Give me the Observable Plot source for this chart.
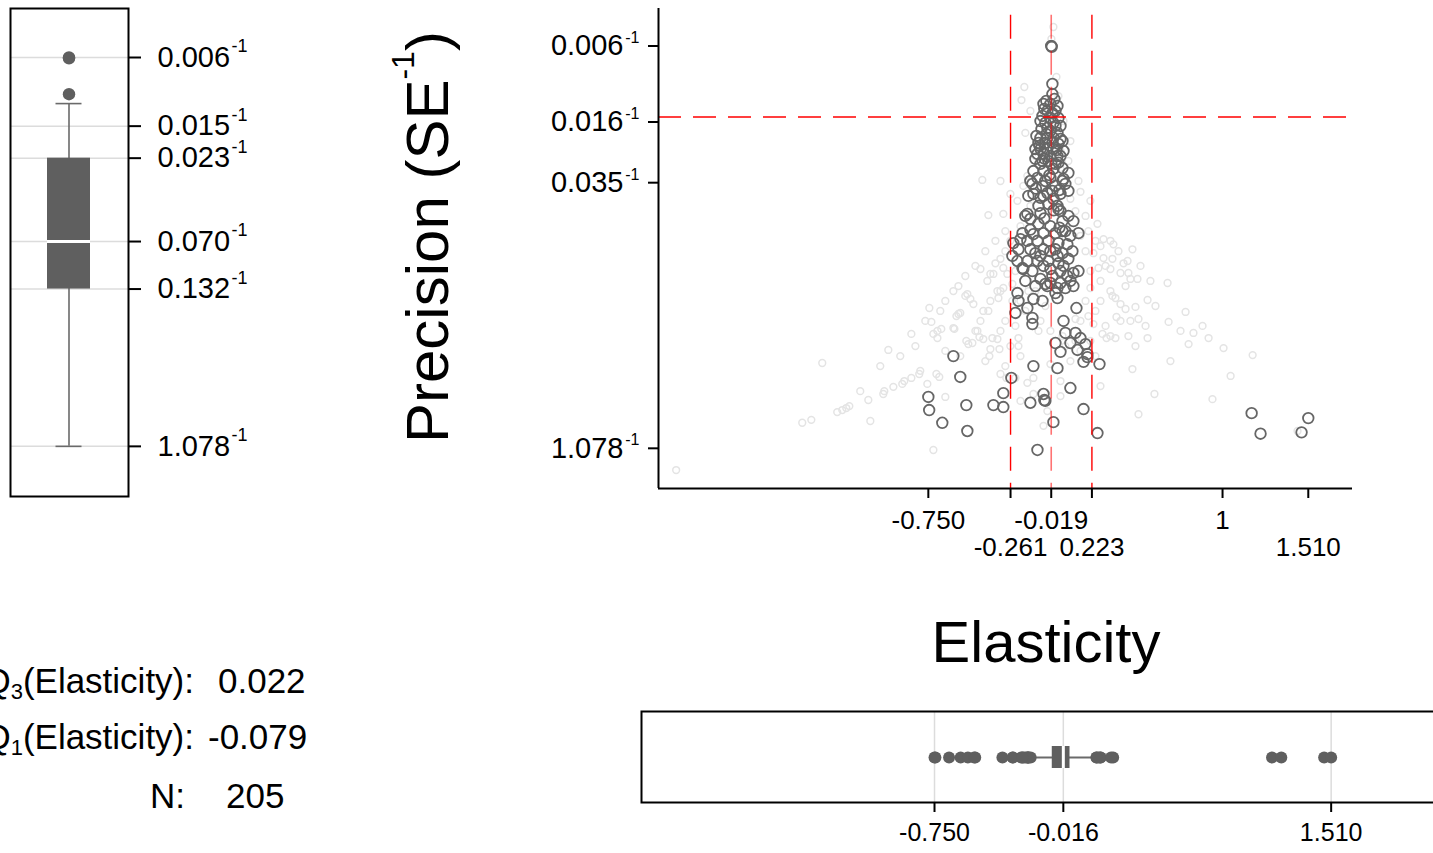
<!DOCTYPE html>
<html><head><meta charset="utf-8">
<script src="https://cdn.jsdelivr.net/npm/d3@7"></script>
<script src="https://cdn.jsdelivr.net/npm/@observablehq/plot@0.6"></script>
<style>
html,body{margin:0;padding:0;background:#fff;overflow:hidden;width:1433px;height:853px;}
#root{position:relative;width:1433px;height:853px;overflow:hidden;}
.abs{position:absolute;}
</style></head><body><div id="root"></div>
<script>
// ---------------- DATA ----------------
// Studies in the selected subsample (dark circles): elasticity and precision (1/SE)
const darkElasticity = [-0.019,-0.016,-0.012,-0.012,-0.065,-0.024,0.018,-0.042,0.006,-0.071,-0.024,0.024,-0.054,-0.006,-0.042,0.006,-0.024,-0.083,-0.042,-0.006,0.036,-0.095,-0.054,-0.012,0.024,0.054,-0.083,-0.042,-0.006,-0.101,-0.065,-0.024,0.018,-0.113,-0.036,-0.083,-0.125,-0.065,-0.006,0.048,-0.101,-0.024,0.054,-0.131,-0.071,0.006,0.065,-0.125,-0.042,0.036,-0.083,-0.006,-0.065,-0.095,-0.036,0.018,-0.173,-0.083,0.036,0.048,-0.095,-0.024,-0.161,0.113,-0.190,-0.125,-0.065,0.006,0.065,0.143,-0.244,-0.161,-0.101,-0.036,0.024,0.077,-0.214,-0.143,-0.065,0.006,0.048,0.083,-0.220,-0.161,-0.101,-0.036,0.024,-0.185,-0.024,0.036,0.113,0.077,-0.190,-0.083,-0.024,0.036,0.095,-0.054,-0.042,0.018,0.065,-0.220,-0.214,-0.125,0.018,-0.232,-0.161,-0.131,-0.131,0.131,0.054,0.065,0.125,0.155,0.006,0.095,0.185,0.036,0.137,0.196,0.173,0.268,0.196,-0.601,-0.125,0.018,-0.560,-0.256,0.095,-0.304,-0.065,-0.060,-0.524,-0.363,-0.304,-0.143,0.173,-0.006,-0.518,0.256,-0.101,-0.750,-0.745,-0.667,1.173,1.226,1.470,1.510,0.048,-0.054,-0.060,-0.012,-0.077,0.018,-0.048,-0.089,0.012,-0.060,-0.018,0.024,-0.030,0.030,-0.110,-0.005,-0.060,0.030,
  -0.048,0.000,-0.083,0.036,-0.107,0.048,-0.113,0.036,-0.071,0.006,-0.143,0.083,-0.054,-0.155,0.083,-0.012,-0.143,0.083,-0.202,-0.024,-0.113,0.107,-0.250,-0.065,0.054,-0.131,-0.012,0.143,-0.113,0.006,0.113,-0.071,-0.173,0.048,-0.143,-0.083,0.018,0.095,0.024];
const darkPrecision = [166.7,165.0,102.1,89.7,78.9,78.9,76.9,72.1,72.1,67.6,65.8,65.8,61.8,61.8,57.9,59.4,55.7,50.9,50.9,50.9,50.2,47.7,47.7,47.7,47.1,43.0,44.1,44.1,44.1,41.4,41.4,40.3,40.3,38.8,37.8,36.4,33.2,33.2,34.1,34.5,30.4,30.4,30.0,28.1,27.4,27.4,28.1,24.7,25.0,24.7,23.5,23.2,24.1,21.2,21.7,21.2,18.6,19.3,19.8,17.4,16.8,16.3,19.1,17.4,14.9,14.7,14.9,14.9,15.3,14.9,13.1,13.5,13.5,13.5,13.1,12.9,12.1,12.1,12.1,12.1,11.5,10.7,10.4,10.4,10.4,10.4,10.1,9.38,9.38,9.14,8.91,8.57,9.50,8.25,7.83,7.83,8.04,7.73,7.53,7.34,7.34,6.88,6.21,6.37,6.45,5.32,5.67,4.99,4.61,5.67,4.80,4.11,4.11,3.85,3.61,3.61,3.56,3.22,3.30,3.13,2.83,2.75,3.01,3.05,2.68,2.61,2.33,2.30,2.02,1.89,1.87,1.73,1.62,1.62,1.58,1.67,1.54,1.30,1.16,1.13,0.908,1.80,1.52,1.29,1.46,1.12,1.14,1.37,29.2,1.71,74.0,70.0,57.1,54.3,53.5,45.9,43.5,39.0,36.5,37.0,31.5,26.0,26.5,20.0,18.0,16.0,
  82.0,84.1,63.3,59.4,52.2,48.9,44.1,40.3,37.8,36.4,29.2,32.4,29.2,24.1,25.7,25.7,17.9,18.6,13.8,11.8,11.5,11.8,11.1,9.76,9.76,9.14,8.57,9.14,7.53,6.88,7.53,6.21,8.04,15.3,15.6,11.1,11.1,14.4,20.3];
// All other estimates (light circles)
const lightElasticity = [-2.250,-1.500,-1.446,-1.381,-1.292,-1.262,-1.238,-1.220,-1.107,-1.018,-1.012,-0.958,-0.905,-0.893,-0.851,-0.804,-0.798,-0.988,-0.851,-0.744,-0.732,-0.720,-0.696,-0.673,-0.696,-0.601,-0.595,-0.583,-0.571,-0.518,-0.500,-0.482,-0.470,-0.512,-0.524,-0.488,-0.446,-0.440,-0.423,-0.393,-0.399,-0.381,-0.369,-0.339,-0.327,-0.387,-0.339,-0.333,-0.304,-0.321,-0.286,-0.232,-0.756,-0.685,-0.702,-0.720,-0.423,-0.214,-0.214,-0.161,-0.125,-0.125,-0.304,-0.280,-0.179,-0.196,-0.173,-0.429,-0.393,-0.304,-0.262,-0.220,-0.161,-0.101,-0.006,-0.018,0.012,0.036,0.155,0.256,0.292,0.333,0.351,0.464,0.232,0.292,0.345,0.411,0.435,0.262,0.333,0.393,0.440,0.494,0.452,0.673,0.274,0.214,0.345,0.363,0.554,0.393,0.482,0.423,0.369,0.500,0.780,0.679,0.881,0.827,0.917,0.798,1.006,0.333,0.286,0.440,0.554,0.482,0.232,1.179,0.464,0.595,0.500,0.940,1.446,0.363,0.310,-0.530,-0.560,-0.601,-0.458,-0.381,-0.363,-0.024,0.036,-0.042,-0.065,-0.292,-0.262,-0.321,-0.232,-0.351,-0.250,-0.202,-0.113,-0.054,-0.083,-0.024,0.048,0.125,0.185,0.214,0.185,0.155,0.125,0.095,0.185,0.244,0.304,0.244,0.155,0.214,0.095,-0.185,-0.143,-0.202,-0.155,-0.292,-0.262,-0.321,0.036,0.054,0.024,
  -0.321,-0.292,-0.351,-0.411,-0.470,-0.530,-0.571,-0.649,-0.679,-0.768,-0.827,-0.917,-1.036,-1.155,-0.649,-0.560,-0.411,-0.292,-0.202,-0.232,-0.173,-0.095,-0.250,-0.321,-0.381,-0.440,0.065,0.155,0.244,0.304,0.393,0.452,0.542,0.601,0.571,0.512,0.381,0.274,0.202,0.214,0.143,0.083,0.095,-0.143,-0.113,0.333,0.423,0.274,0.202,0.125,0.036,-0.202,0.274,0.690,0.750,1.048,-0.649,-1.095];
const lightPrecision = [0.701,1.29,1.34,2.79,1.48,1.52,1.56,1.60,1.73,1.87,1.94,2.05,2.13,2.21,2.30,2.42,2.52,3.30,4.06,5.67,4.74,4.06,4.22,4.33,3.85,7.06,4.33,5.11,5.25,6.79,6.37,5.97,4.22,3.56,3.71,3.61,3.90,9.38,5.46,5.46,8.04,8.80,3.85,3.80,3.34,3.05,7.06,6.45,7.34,2.42,2.30,2.30,2.13,2.33,2.42,0.908,3.80,3.85,3.47,2.16,2.30,1.87,9.51,8.80,98.2,83.0,54.3,29.6,18.8,19.1,24.7,22.6,31.2,47.1,213,182.5,111.7,34.5,25.4,16.8,13.8,13.5,12.9,12.1,11.5,10.8,10.7,10.1,10.4,9.50,9.38,8.91,8.91,8.25,8.25,7.83,8.04,7.34,6.63,6.45,6.29,5.97,5.75,5.60,5.05,4.92,5.39,4.74,4.50,4.11,3.85,3.56,3.38,3.95,4.06,3.95,3.85,3.47,4.61,3.09,2.58,1.87,1.44,1.75,1.16,3.85,3.85,6.63,5.32,4.38,4.22,3.34,8.80,2.75,2.21,1.50,1.24,11.8,13.5,10.7,9.14,10.1,7.73,6.21,7.06,5.82,4.80,4.22,3.95,4.92,6.21,9.14,11.8,14.4,19.8,23.2,18.6,13.5,9.76,5.46,4.80,3.71,2.86,27.4,21.2,16.3,7.06,4.80,3.47,4.22,43.0,63.3,87.3,
  29.2,15.3,13.5,11.8,9.76,8.57,7.53,6.21,5.46,4.80,3.47,3.05,2.68,1.94,3.26,3.05,2.86,2.68,3.05,4.50,5.46,4.22,6.21,7.06,6.21,4.80,3.47,3.26,3.05,4.50,4.80,4.80,4.50,5.82,8.04,9.76,11.8,12.6,15.3,22.6,29.2,37.8,48.9,72.1,40.3,7.06,7.53,6.21,5.11,3.71,1.82,1.71,2.07,2.86,4.22,2.36,1.80,1.32];

// Funnel reference lines
const refElasticity = [-0.261, 0.223];      // dashed bounds
const refElasticityMid = [-0.019];          // central estimate
const refSE = [0.015];                      // horizontal line (SE)

// Funnel axis ticks
const xTicksRow1 = [-0.750, -0.019, 1];
const xLabelsRow1 = ["-0.750", "-0.019", "1"];
const xTicksRow2 = [-0.261, 0.223, 1.510];
const xLabelsRow2 = ["-0.261", "0.223", "1.510"];
const yTickSE = [0.006, 0.016, 0.035, 1.078];
const yTickLabels = ["0.006", "0.016", "0.035", "1.078"];

// Left box plot (SE) ticks and statistics
const seTicks = [0.006, 0.015, 0.023, 0.070, 0.132, 1.078];
const seTickLabels = ["0.006", "0.015", "0.023", "0.070", "0.132", "1.078"];
const seQ1 = 0.023, seMedian = 0.070, seQ3 = 0.132, seWhiskerLow = 0.0111, seWhiskerHigh = 1.078;

// Bottom box plot (elasticity) ticks and statistics
const eTicks = [-0.750, -0.016, 1.510];
const eTickLabels = ["-0.750", "-0.016", "1.510"];
const eQ1 = -0.079, eMedian = -0.016, eQ3 = 0.022, eWhiskerLow = -0.195, eWhiskerHigh = 0.155;

// Summary text
const statNames = ["Q", "Q", "N"];
const statSubs = ["3", "1", ""];
const statTails = ["(Elasticity):", "(Elasticity):", ":"];
const statValues = ["0.022", "-0.079", "205"];
const xTitle = "Elasticity";
const yTitle = "Precision (SE";
const invSuffix = "-1";

// ---------------- RENDER ----------------
const FONT = '"Liberation Sans", Arial, Helvetica, sans-serif';
const root = document.getElementById("root");
function place(node, left, top, w, h) {
  const div = document.createElement("div");
  div.className = "abs";
  Object.assign(div.style, {left: left + "px", top: top + "px", width: w + "px", height: h + "px"});
  div.appendChild(node);
  root.appendChild(div);
}
const baseStyle = {fontFamily: FONT, background: "transparent", maxWidth: "none", overflow: "visible", color: "#000"};

const dark = darkElasticity.map((e, i) => ({e, p: darkPrecision[i]}));
const light = lightElasticity.map((e, i) => ({e, p: lightPrecision[i]}));
const lab1 = new Map(xTicksRow1.map((d, i) => [d, xLabelsRow1[i]]));
const lab2 = new Map(xTicksRow2.map((d, i) => [d, xLabelsRow2[i]]));
const yTicks = yTickSE.map((s, i) => ({p: 1 / s, label: yTickLabels[i]}));

const mainX = [-2.355, 1.773];
const mainY = [0.5524, 270.4];

// ---- main funnel plot ----
const funnel = Plot.plot({
  width: 913, height: 600,
  marginLeft: 138, marginRight: 81, marginTop: 8, marginBottom: 112,
  style: {...baseStyle, fontSize: "29px"},
  x: {domain: mainX, label: null},
  y: {type: "log", domain: mainY, label: null},
  marks: [
    Plot.dot(light, {x: "e", y: "p", r: 3.4, stroke: "#e4e4e4", strokeWidth: 1.5}),
    Plot.dot(dark, {x: "e", y: "p", r: 5.3, stroke: "#666666", strokeWidth: 1.8}),
    Plot.ruleX(refElasticity, {y1: 248, y2: mainY[0], stroke: "#ff0000", strokeWidth: 1.4, strokeDasharray: "24,12"}),
    Plot.ruleX(refElasticityMid, {y1: 248, y2: mainY[0], stroke: "#ff0000", strokeOpacity: 0.55, strokeWidth: 1.6, strokeDasharray: "24,12"}),
    Plot.ruleY(refSE.map(s => 1 / s), {stroke: "#ff0000", strokeWidth: 1.4, strokeDasharray: "23,12"}),
    Plot.ruleX([mainX[0]], {stroke: "#000", strokeWidth: 2}),
    Plot.ruleY([mainY[0]], {stroke: "#000", strokeWidth: 2}),
    Plot.axisX({ticks: xTicksRow1, tickFormat: d => lab1.get(d), tickSize: 10, tickPadding: 12, fontSize: 26, strokeWidth: 2, label: null}),
    Plot.axisX({ticks: xTicksRow2, tickFormat: d => lab2.get(d), tickSize: 10, tickPadding: 39, fontSize: 26, strokeWidth: 2, label: null}),
    Plot.axisY({ticks: yTicks.map(d => d.p), tickFormat: () => "", tickSize: 10, strokeWidth: 2, label: null}),
    Plot.text(yTicks, {y: "p", text: "label", frameAnchor: "left", textAnchor: "end", dx: -35, fontSize: 29, fill: "#000"}),
    Plot.text(yTicks, {y: "p", text: () => invSuffix, frameAnchor: "left", textAnchor: "end", dx: -19, dy: -8, fontSize: 16, fill: "#000"})
  ]
});
place(funnel, 520, 0, 913, 600);

// ---- left box plot of precision ----
const seTickRows = seTicks.map((s, i) => ({p: 1 / s, label: seTickLabels[i]}));
const pHigh = 1 / seWhiskerLow;
const seOutliers = dark.filter(d => d.p > pHigh);
const leftY = [0.475, 320.6];
const leftBox = Plot.plot({
  width: 300, height: 520,
  marginLeft: 10, marginRight: 172, marginTop: 8, marginBottom: 24,
  style: {...baseStyle, fontSize: "29px"},
  x: {type: "band", domain: ["SE"], padding: 0.4568, axis: null},
  y: {type: "log", domain: leftY, label: null},
  marks: [
    Plot.gridY({ticks: seTickRows.map(d => d.p), stroke: "#dcdcdc", strokeOpacity: 1, strokeWidth: 1.5}),
    Plot.ruleX(["SE"], {x: d => d, y1: pHigh, y2: 1 / seWhiskerHigh, stroke: "#6a6a6a", strokeWidth: 1.6}),
    Plot.tickY([pHigh, 1 / seWhiskerHigh], {x: () => "SE", y: d => d, insetLeft: 8.5, insetRight: 8.5, stroke: "#6a6a6a", strokeWidth: 1.6}),
    Plot.barY([{g: "SE", lo: 1 / seQ3, hi: 1 / seQ1}], {x: "g", y1: "lo", y2: "hi", fill: "#5f5f5f"}),
    Plot.tickY([1 / seMedian], {x: () => "SE", y: d => d, stroke: "#ffffff", strokeWidth: 3}),
    Plot.dot(seOutliers, {x: () => "SE", y: "p", r: 6.2, fill: "#5f5f5f", stroke: "none"}),
    Plot.frame({stroke: "#000", strokeWidth: 2}),
    Plot.axisY({anchor: "right", ticks: seTickRows.map(d => d.p), tickFormat: () => "", tickSize: 12, strokeWidth: 2, label: null}),
    Plot.text(seTickRows, {y: "p", text: "label", frameAnchor: "right", textAnchor: "start", dx: 29, fontSize: 29, fill: "#000"}),
    Plot.text(seTickRows, {y: "p", text: () => invSuffix, frameAnchor: "right", textAnchor: "start", dx: 103, dy: -11, fontSize: 18, fill: "#000"})
  ]
});
place(leftBox, 0, 0, 300, 520);

// ---- bottom box plot of elasticity ----
const eLab = new Map(eTicks.map((d, i) => [d, eTickLabels[i]]));
const eOutliers = dark.filter(d => d.e < eWhiskerLow || d.e > eWhiskerHigh);
const bottomBox = Plot.plot({
  width: 840, height: 163,
  marginLeft: 21, marginRight: 10, marginTop: 21, marginBottom: 51,
  style: {...baseStyle, fontSize: "25px"},
  x: {domain: [-2.4195, 2.190], label: null},
  y: {type: "band", domain: ["E"], padding: 0.6106, axis: null},
  marks: [
    Plot.gridX({ticks: eTicks, stroke: "#dcdcdc", strokeOpacity: 1, strokeWidth: 1.5}),
    Plot.ruleY(["E"], {y: d => d, x1: eWhiskerLow, x2: eWhiskerHigh, stroke: "#6a6a6a", strokeWidth: 2}),
    Plot.barX([{g: "E", lo: eQ1, hi: eQ3}], {y: "g", x1: "lo", x2: "hi", fill: "#5f5f5f"}),
    Plot.tickX([eMedian], {y: () => "E", x: d => d, stroke: "#ffffff", strokeWidth: 3}),
    Plot.dot(eOutliers, {x: "e", y: () => "E", r: 6, fill: "#5f5f5f", stroke: "none"}),
    Plot.frame({stroke: "#000", strokeWidth: 2}),
    Plot.axisX({ticks: eTicks, tickFormat: d => eLab.get(d), tickSize: 10, tickPadding: 11, fontSize: 25, strokeWidth: 2, label: null})
  ]
});
place(bottomBox, 620, 690, 840, 163);

// ---- titles and summary text ----
const overlay = d3.create("svg")
  .attr("width", 1433).attr("height", 853)
  .style("position", "absolute").style("left", "0px").style("top", "0px")
  .style("pointer-events", "none").style("font-family", FONT);
overlay.append("text").attr("x", 1046).attr("y", 662).attr("text-anchor", "middle")
  .attr("font-size", 58).attr("fill", "#000").text(xTitle);
const yt = overlay.append("text").attr("transform", "translate(448,443) rotate(-90)")
  .attr("font-size", 60).attr("fill", "#000");
yt.append("tspan").text(yTitle);
yt.append("tspan").attr("font-size", 32).attr("dy", -34).text(invSuffix);
yt.append("tspan").attr("dy", 34).text(")");

const statBaselines = [693, 749, 808];
const statLabelRight = [194, 194, 185];
const statValueLeft = [218, 208, 226];
statNames.forEach((nm, i) => {
  const t = overlay.append("text").attr("x", statLabelRight[i]).attr("y", statBaselines[i])
    .attr("text-anchor", "end").attr("font-size", 35).attr("fill", "#000");
  t.append("tspan").text(nm);
  if (statSubs[i]) {
    t.append("tspan").attr("font-size", 22).attr("dy", 6).text(statSubs[i]);
    t.append("tspan").attr("dy", -6).text(statTails[i]);
  } else {
    t.append("tspan").text(statTails[i]);
  }
  overlay.append("text").attr("x", statValueLeft[i]).attr("y", statBaselines[i])
    .attr("font-size", 35).attr("fill", "#000").text(statValues[i]);
});
root.appendChild(overlay.node());
</script></body></html>
